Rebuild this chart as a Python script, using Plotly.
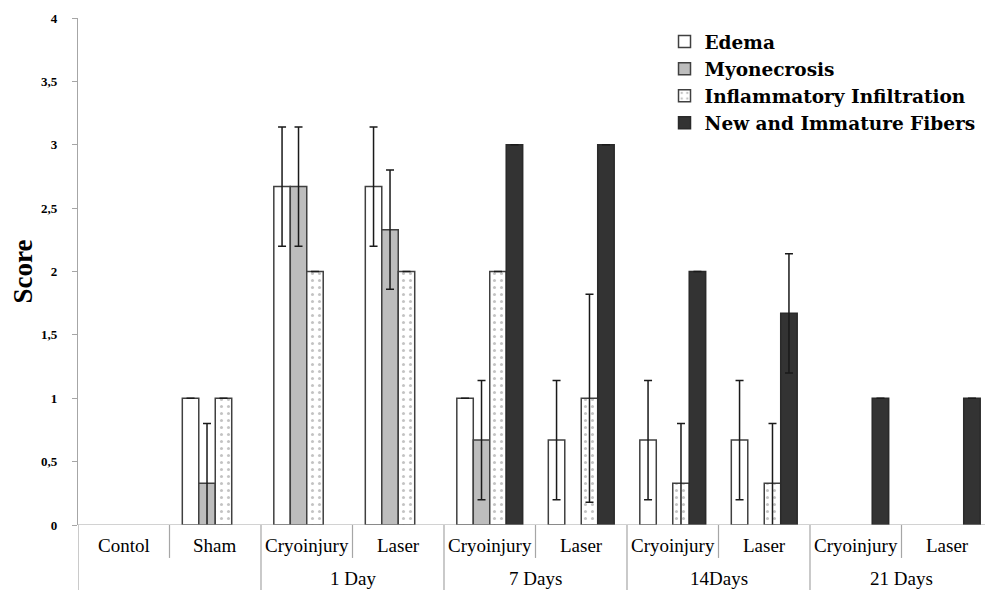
import plotly.graph_objects as go

sub_labels = ["Contol", "Sham", "Cryoinjury", "Laser", "Cryoinjury", "Laser",
              "Cryoinjury", "Laser", "Cryoinjury", "Laser"]
group_labels = ["1 Day", "7 Days", "14Days", "21 Days"]
x_pos = list(range(len(sub_labels)))

edema = [None, 1, 2.67, 2.67, 1, 0.67, 0.67, 0.67, None, None]
edema_err = [None, None, 0.47, 0.47, None, 0.47, 0.47, 0.47, None, None]
myonecrosis = [None, 0.33, 2.67, 2.33, 0.67, None, None, None, None, None]
myonecrosis_err = [None, 0.47, 0.47, 0.47, 0.47, None, None, None, None, None]
inflammatory = [None, 1, 2, 2, 2, 1, 0.33, 0.33, None, None]
inflammatory_err = [None, 0, 0, 0, 0, 0.82, 0.47, 0.47, None, None]
new_fibers = [None, None, None, None, 3, 3, 2, 1.67, 1, 1]
new_fibers_err = [None, None, None, None, None, None, None, 0.47, None, None]

FONT = "Liberation Serif"
LFONT = "DejaVu Serif"
OUT = "#404040"

def err(arr):
    return dict(type="data", array=arr, visible=True, color="#1a1a1a",
                thickness=1.5, width=4)

fig = go.Figure()
fig.add_trace(go.Bar(name="Edema", x=x_pos, y=edema, error_y=err(edema_err),
                     marker=dict(color="white", line=dict(color=OUT, width=1.5))))
fig.add_trace(go.Bar(name="Myonecrosis", x=x_pos, y=myonecrosis, error_y=err(myonecrosis_err),
                     marker=dict(color="#bdbdbd", line=dict(color=OUT, width=1.5))))
fig.add_trace(go.Bar(name="Inflammatory Infiltration", x=x_pos, y=inflammatory,
                     error_y=err(inflammatory_err),
                     marker=dict(color="white", line=dict(color=OUT, width=1.5),
                                 pattern=dict(shape=".", fgcolor="#888888", bgcolor="white",
                                              size=7, solidity=0.15))))
fig.add_trace(go.Bar(name="New and Immature Fibers", x=x_pos, y=new_fibers,
                     error_y=err(new_fibers_err),
                     marker=dict(color="#333333", line=dict(color="#2a2a2a", width=1.5))))

shapes = []
LINE = dict(color="#a6a6a6", width=1.2)
full_b = -0.13
short_b = -0.065
shapes.append(dict(type="line", xref="x", yref="paper", x0=-0.5, x1=-0.5, y0=0, y1=full_b, line=LINE))
shapes.append(dict(type="line", xref="x", yref="paper", x0=0.5, x1=0.5, y0=0, y1=short_b, line=LINE))
for b in [1.5, 3.5, 5.5, 7.5]:
    shapes.append(dict(type="line", xref="x", yref="paper", x0=b, x1=b, y0=0, y1=full_b, line=LINE))
for b in [2.5, 4.5, 6.5, 8.5]:
    shapes.append(dict(type="line", xref="x", yref="paper", x0=b, x1=b, y0=0, y1=short_b, line=LINE))
shapes.append(dict(type="line", xref="paper", yref="y", x0=0, x1=1, y0=0, y1=0, line=LINE))

annotations = []
for xp, lab in zip(x_pos, sub_labels):
    annotations.append(dict(x=xp, y=-0.041, xref="x", yref="paper", text=lab, showarrow=False,
                            font=dict(family=FONT, size=19, color="black"), yanchor="middle"))
for i, lab in enumerate(group_labels):
    annotations.append(dict(x=2.5 + 2 * i, y=-0.106, xref="x", yref="paper", text=lab, showarrow=False,
                            font=dict(family=FONT, size=19, color="black"), yanchor="middle"))

# page body has an 8px margin; figure sized so the plot lands where the reference has it
fig.update_layout(
    width=985, height=582,
    margin=dict(l=70, r=0, t=10, b=65),
    paper_bgcolor="white", plot_bgcolor="white",
    separators=", ",
    barmode="group", bargap=0.28, bargroupgap=0,
    showlegend=True,
    legend=dict(x=0.641, y=0.99, xanchor="left", yanchor="top",
                font=dict(family=LFONT, size=18.5, color="black", weight="bold"),
                bgcolor="rgba(0,0,0,0)", tracegroupgap=0, itemwidth=30),
    xaxis=dict(range=[-0.5, 9.5], tickvals=x_pos, showticklabels=False, ticks="",
               showgrid=False, zeroline=False, showline=False, automargin=False),
    yaxis=dict(range=[0, 4], dtick=0.5, tickformat=".1~f", showgrid=False, zeroline=False,
               showline=True, linecolor="#a6a6a6", linewidth=1.2, ticks="outside", ticklen=5,
               tickcolor="#a6a6a6", ticklabelstandoff=12, automargin=False,
               tickfont=dict(family=FONT, size=13, color="black", weight="bold"),
               title=dict(text="Score", font=dict(family=FONT, size=27, color="black", weight="bold"),
                          standoff=12)),
    shapes=shapes,
    annotations=annotations,
)

fig.write_html("out.html")
